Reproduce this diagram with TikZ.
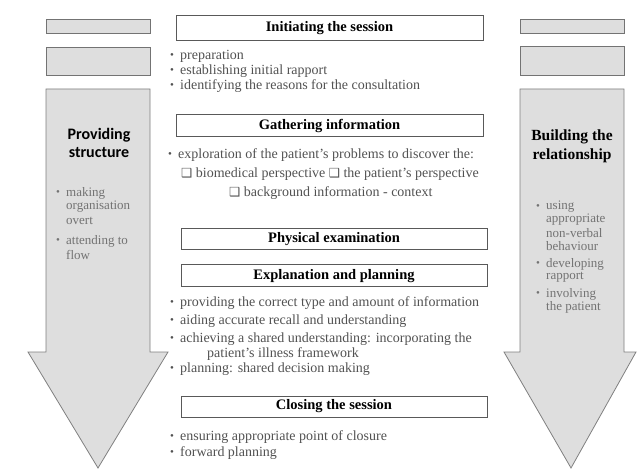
\documentclass[tikz,border=0pt]{standalone}
\usepackage{fontspec}
\setmainfont{Liberation Serif}
\newfontfamily\cbsans{Carlito}
\newfontfamily\djv{DejaVu Sans}
\newcommand{\bl}{\makebox[10pt][l]{\fontsize{11}{11}\selectfont\raisebox{0.5pt}{•}}}
\newcommand{\cbx}{{\djv\fontsize{12.5}{12}\selectfont ❑}}
\tikzset{
  bigarrow/.style={draw=black!50, fill=black!13, line width=0.8pt, line join=miter},
  graybar/.style={draw=black!55, fill=black!13, line width=0.8pt, inner sep=0pt},
  stagebox/.style={draw=black!65, fill=white, line width=1pt, inner sep=0pt,
    font=\fontsize{14.5}{16}\selectfont\bfseries, text=black},
  item/.style={anchor=west, inner sep=0pt, font=\fontsize{14}{16}\selectfont, text=black!68},
  sideitem/.style={anchor=west, inner sep=0pt, font=\fontsize{13}{15}\selectfont, text=black!55},
  sidetitleL/.style={inner sep=0pt, font=\cbsans\fontsize{16}{18}\selectfont\bfseries, text=black},
  sidetitleR/.style={inner sep=0pt, font=\fontsize{15.5}{18}\selectfont\bfseries, text=black},
}
\begin{document}
\begin{tikzpicture}[x=1pt,y=-1pt]
\useasboundingbox[fill=white] (0,0) rectangle (637,470);

% left column
\node[graybar, minimum width=104pt, minimum height=14pt] (lbar1) at (98,26) {};
\node[graybar, minimum width=104pt, minimum height=28pt] (lbar2) at (98,61) {};
\draw[bigarrow] (46,89) -- (150,89) -- (150,352) -- (168,352) -- (98,468) -- (28,352) -- (46,352) -- cycle;
\node[sidetitleL] (ltitle1) at (99,135) {Providing};
\node[sidetitleL] (ltitle2) at (99,153) {structure};
\node[sideitem] (l1) at (56,193) {\bl making};
\node[sideitem] (l2) at (66,207) {organisation};
\node[sideitem] (l3) at (66,221) {overt};
\node[sideitem] (l4) at (56,241) {\bl attending to};
\node[sideitem] (l5) at (66,255) {flow};

% right column
\node[graybar, minimum width=104pt, minimum height=14pt] (rbar1) at (572,26) {};
\node[graybar, minimum width=104pt, minimum height=29pt] (rbar2) at (572,60.5) {};
\draw[bigarrow] (520,89) -- (624,89) -- (624,352) -- (636,352) -- (571,468) -- (504,352) -- (520,352) -- cycle;
\node[sidetitleR] (rtitle1) at (572,137) {Building the};
\node[sidetitleR] (rtitle2) at (572,156) {relationship};
\node[sideitem] (r1) at (536,207) {\bl using};
\node[sideitem] (r2) at (546,220) {appropriate};
\node[sideitem] (r3) at (546,233) {non-verbal};
\node[sideitem] (r4) at (546,246) {behaviour};
\node[sideitem] (r5) at (536,264) {\bl developing};
\node[sideitem] (r6) at (546,277) {rapport};
\node[sideitem] (r7) at (536,294) {\bl involving};
\node[sideitem] (r8) at (546,307) {the patient};

% centre column
\node[stagebox, minimum width=307pt, minimum height=25pt] (init) at (329.5,28.5) {Initiating the session};
\node[item] (i1) at (170,56) {\bl preparation};
\node[item] (i2) at (170,71) {\bl establishing initial rapport};
\node[item] (i3) at (170,86) {\bl identifying the reasons for the consultation};

\node[stagebox, minimum width=307pt, minimum height=22pt] (gather) at (329.5,126) {Gathering information};
\node[item] (g1) at (168,155) {\bl exploration of the patient’s problems to discover the:};
\node[item] (g2) at (181,174) {\cbx\ biomedical perspective \cbx\ the patient’s perspective};
\node[item] (g3) at (229,193) {\cbx\ background information - context};

\node[stagebox, minimum width=306pt, minimum height=21pt] (phys) at (334,239.5) {Physical examination};

\node[stagebox, minimum width=306pt, minimum height=22pt] (expl) at (334,276) {Explanation and planning};
\node[item] (e1) at (170,303) {\bl providing the correct type and amount of information};
\node[item] (e2) at (170,321) {\bl aiding accurate recall and understanding};
\node[item] (e3) at (170,339) {\bl achieving a shared understanding: incorporating the};
\node[item] (e4) at (207,354) {patient’s illness framework};
\node[item] (e5) at (170,369) {\bl planning: shared decision making};

\node[stagebox, minimum width=306pt, minimum height=21pt] (close) at (334,406.5) {Closing the session};
\node[item] (c1) at (170,437) {\bl ensuring appropriate point of closure};
\node[item] (c2) at (170,453) {\bl forward planning};
\end{tikzpicture}
\end{document}
